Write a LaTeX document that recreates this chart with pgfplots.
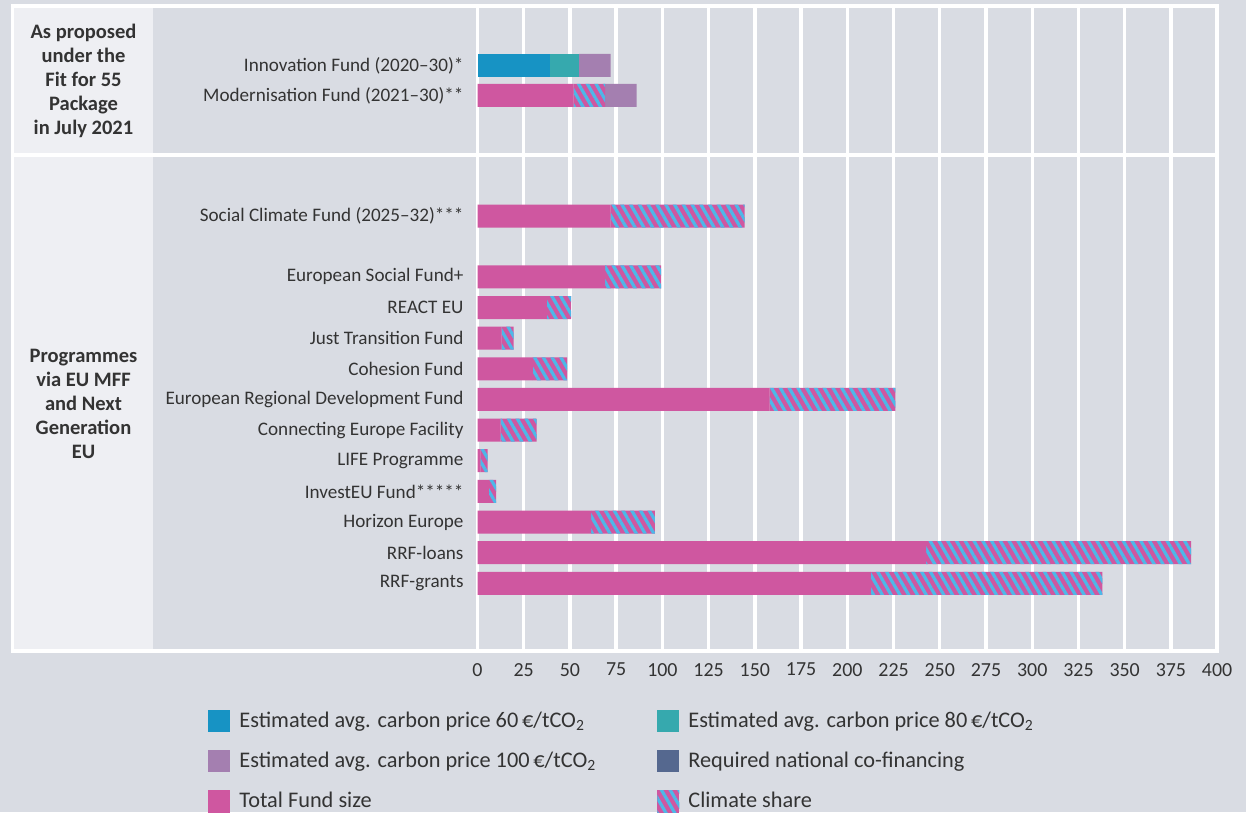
\documentclass[border=0pt]{standalone}
\usepackage{fontspec}
\setmainfont{Carlito}
\usepackage{pgfplots}
\usepackage{pgfplotstable}
\pgfplotsset{compat=1.18}
\usetikzlibrary{patterns.meta}

\definecolor{bgc}{HTML}{D9DCE3}
\definecolor{leftc}{HTML}{EEEFF3}
\definecolor{c60}{HTML}{1793C4}
\definecolor{c80}{HTML}{36A9AE}
\definecolor{c100}{HTML}{A47FB0}
\definecolor{cofin}{HTML}{55688F}
\definecolor{pinkc}{HTML}{CF57A0}
\definecolor{hatchc}{HTML}{4DB8E8}
\definecolor{txt}{HTML}{333333}

\pgfplotstableread{
y      b60 pink  b80 hatch b100
65.3   39  0     16  0     17
95.3   0   52    0   17    17
216.2  0   72    0   72.4  0
276.8  0   69    0   30.3  0
307.5  0   37.5  0   13.1  0
338.1  0   13    0   6.5   0
368.8  0   30    0   18.4  0
399.4  0   158   0   68    0
430.0  0   12.5  0   19.5  0
460.7  0   1.5   0   3.9   0
491.4  0   6.2   0   3.8   0
522.0  0   61.4  0   34.5  0
552.7  0   242.6 0   143.4 0
583.3  0   212.8 0   125.2 0
}\data

\pgfplotsset{
  legsq/.style={legend image code/.code={\path[##1,draw=none] (0bp,-5.5bp) rectangle (11bp,5.5bp);}},
  hatchstyle/.style={fill=pinkc, draw=none, postaction={pattern={Lines[angle=-60,distance=3.8bp,line width=1.6bp]}, pattern color=hatchc}},
}

\begin{document}
\begin{tikzpicture}
\begin{scope}[x=0.5bp,y=-0.5bp]
\fill[bgc] (0,0) rectangle (1246,812);
\fill[white] (11,4) rectangle (1219,653);
\fill[leftc] (14,8) rectangle (153,153);
\fill[bgc] (153,8) rectangle (1215,153);
\fill[leftc] (14,157) rectangle (153,649);
\fill[bgc] (153,157) rectangle (1215,649);
\node[align=center, font=\fontsize{10.3}{12}\selectfont\bfseries, text=txt] at (83.5,81) {As proposed\\under the\\Fit for 55\\Package\\in July 2021};
\node[align=center, font=\fontsize{10.3}{12}\selectfont\bfseries, text=txt] at (83.5,404) {Programmes\\via EU MFF\\and Next\\Generation\\EU};
\end{scope}
\begin{axis}[
  at={(238.75bp,-325bp)}, anchor=south west,
  x=0.92449bp, y=0.5bp, y dir=reverse,
  xmin=0, xmax=400, ymin=6, ymax=650,
  axis line style={draw=none},
  tick style={draw=none},
  xtick={0,25,...,400},
  xmajorgrids, major grid style={white, line width=1.7bp},
  ytick={65.3,95.3,216.2,276.8,307.5,338.1,368.8,399.4,430.0,460.7,491.4,522.0,552.7,583.3},
  yticklabels={Innovation Fund (2020–30)*, Modernisation Fund (2021–30)**, Social Climate Fund (2025–32)***, European Social Fund+, REACT EU, Just Transition Fund, Cohesion Fund, European Regional Development Fund, Connecting Europe Facility, LIFE Programme, InvestEU Fund*****, Horizon Europe, RRF-loans, RRF-grants},
  yticklabel style={font=\fontsize{9.6}{11}\selectfont, text=txt, xshift=-3.5bp},
  xticklabel style={font=\fontsize{10}{12}\selectfont, text=txt, yshift=-3bp},
  /pgf/number format/assume math mode=true,
  xbar stacked, bar width=11.5bp,
  legend columns=2,
  legend style={at={(-0.3644,-0.089)}, anchor=north west, draw=none, fill=none, inner sep=0pt,
    font=\fontsize{11.2}{13}\selectfont, text=txt, row sep=6.9bp,
    /tikz/every odd column/.append style={column sep=2.5bp}},
  legend cell align=left,
]
\addplot[fill=c60, draw=none, forget plot] table[x=b60, y=y] {\data};
\addplot[fill=pinkc, draw=none, forget plot] table[x=pink, y=y] {\data};
\addplot[fill=c80, draw=none, forget plot] table[x=b80, y=y] {\data};
\addplot[hatchstyle, forget plot] table[x=hatch, y=y] {\data};
\addplot[fill=c100, draw=none, forget plot] table[x=b100, y=y] {\data};

\addlegendimage{legsq, fill=c60}
\addlegendentry{\makebox[207bp][l]{Estimated avg. carbon price 60\,€/tCO\textsubscript{2}}}
\addlegendimage{legsq, fill=c80}
\addlegendentry{Estimated avg. carbon price 80\,€/tCO\textsubscript{2}}
\addlegendimage{legsq, fill=c100}
\addlegendentry{\makebox[207bp][l]{Estimated avg. carbon price 100\,€/tCO\textsubscript{2}}}
\addlegendimage{legsq, fill=cofin}
\addlegendentry{Required national co-financing}
\addlegendimage{legsq, fill=pinkc}
\addlegendentry{\makebox[207bp][l]{Total Fund size}}
\addlegendimage{legsq, hatchstyle}
\addlegendentry{Climate share}
\end{axis}
\end{tikzpicture}
\end{document}
